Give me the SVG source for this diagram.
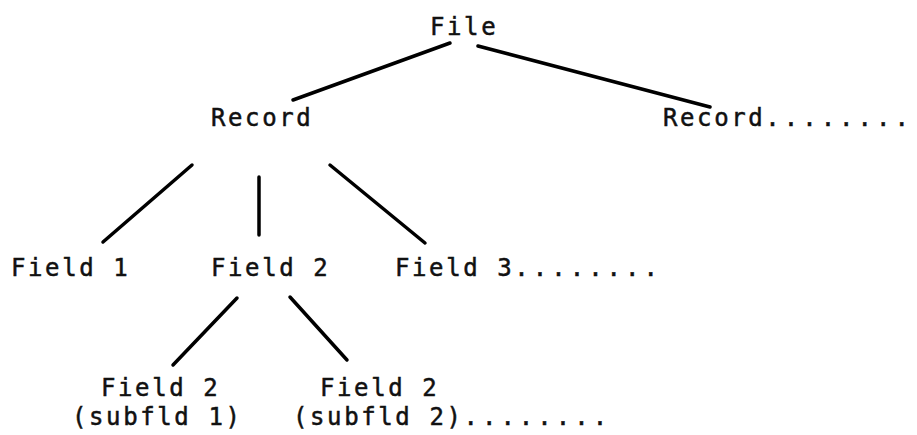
<svg xmlns="http://www.w3.org/2000/svg" width="917" height="435" viewBox="0 0 917 435">
  <style>
    .lbl { font-family: "DejaVu Sans Mono", "Liberation Mono", monospace; font-size: 24px; letter-spacing: 2.6px; fill: #111; stroke: #111; stroke-width: 0.5px; }
    .dots { letter-spacing: 4px; }
    .edge { stroke: #000; stroke-width: 3.5; stroke-linecap: round; fill: none; }
  </style>
  <rect width="917" height="435" fill="#fff"/>

  <!-- tree edges -->
  <g id="connectors">
    <line class="edge" x1="450" y1="43" x2="293" y2="100"/>
    <line class="edge" x1="478" y1="46" x2="710" y2="107"/>
    <line class="edge" x1="192" y1="165" x2="103" y2="242"/>
    <line class="edge" x1="259" y1="177" x2="259" y2="235" stroke-width="2.5"/>
    <line class="edge" x1="330" y1="165" x2="425" y2="243"/>
    <line class="edge" x1="237" y1="298" x2="173" y2="365"/>
    <line class="edge" x1="290" y1="297" x2="347" y2="360"/>
  </g>

  <g id="file"><text class="lbl" x="430" y="35">File</text></g>
  <g id="record1"><text class="lbl" x="211" y="126">Record</text></g>
  <g id="record2"><text class="lbl" x="663" y="126">Record<tspan class="dots">........</tspan></text></g>
  <g id="field1"><text class="lbl" x="11" y="276">Field 1</text></g>
  <g id="field2"><text class="lbl" x="211" y="276">Field 2</text></g>
  <g id="field3"><text class="lbl" x="395" y="276">Field 3<tspan class="dots">........</tspan></text></g>
  <g id="subfield1">
    <text class="lbl" x="101" y="396">Field 2</text>
    <text class="lbl" x="72" y="425">(subfld 1)</text>
  </g>
  <g id="subfield2">
    <text class="lbl" x="320" y="396">Field 2</text>
    <text class="lbl" x="293" y="425">(subfld 2)<tspan class="dots">........</tspan></text>
  </g>
</svg>
